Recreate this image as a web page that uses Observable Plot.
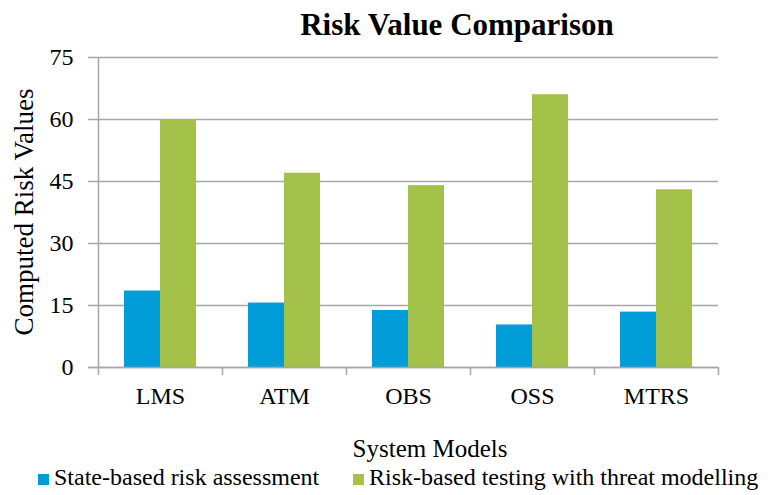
<!DOCTYPE html>
<html>
<head>
<meta charset="utf-8">
<script src="https://cdn.jsdelivr.net/npm/d3@7"></script>
<script src="https://cdn.jsdelivr.net/npm/@observablehq/plot@0.6"></script>
<style>
  html, body { margin: 0; padding: 0; background: #fff; }
  #chart { width: 772px; height: 495px; }
</style>
</head>
<body>
<div id="chart"></div>
<script>
const categories = ["LMS", "ATM", "OBS", "OSS", "MTRS"];
const seriesNames = ["State-based risk assessment", "Risk-based testing with threat modelling"];
const stateBased = [18.5, 15.6, 13.8, 10.3, 13.4];
const threatModelling = [60, 47, 44, 66, 43];
const yTicks = [0, 15, 30, 45, 60, 75];
const colors = ["#009dd9", "#a4c14a"];
const title = "Risk Value Comparison";
const xTitle = "System Models";
const yTitle = "Computed Risk Values";

const blueData = categories.map((c, i) => ({category: c, value: stateBased[i]}));
const greenData = categories.map((c, i) => ({category: c, value: threatModelling[i]}));

const font = "'Liberation Serif', serif";
const grid = "#a6a6a6";

const svg = Plot.plot({
  width: 772,
  height: 495,
  marginLeft: 97,
  marginRight: 54,
  marginTop: 57,
  marginBottom: 128,
  style: {fontFamily: font, fontSize: "24px", color: "#000", background: "#fff", overflow: "visible"},
  x: {domain: categories, padding: 0, label: null},
  y: {domain: [0, 75], ticks: yTicks, label: null},
  marks: [
    Plot.gridY(yTicks, {stroke: grid, strokeOpacity: 1, strokeWidth: 1.5}),
    Plot.axisY(yTicks, {tickSize: 9, tickPadding: 15, stroke: grid, strokeWidth: 1.5, fill: "#000", label: null}),
    Plot.axisX({tickSize: 0, tickPadding: 19, fill: "#000", label: null}),
    Plot.barY(blueData, {x: "category", y: "value", fill: colors[0], insetLeft: 26, insetRight: 62}),
    Plot.barY(greenData, {x: "category", y: "value", fill: colors[1], insetLeft: 62, insetRight: 26}),
    Plot.ruleY([0], {stroke: grid, strokeWidth: 1.5, insetLeft: -9}),
    Plot.ruleX([categories[0]], {dx: -62, y1: 75, y2: 0, stroke: grid, strokeWidth: 1.5, insetBottom: -8}),
    Plot.ruleX(categories.slice(1), {dx: -62, y1: 0, y2: 0, stroke: grid, strokeWidth: 1.5, insetBottom: -8}),
    Plot.ruleX([categories[categories.length - 1]], {dx: 62, y1: 0, y2: 0, stroke: grid, strokeWidth: 1.5, insetBottom: -8})
  ]
});

const s = d3.select(svg);
function addText(x, y, str, size, anchor, weight, transform) {
  const t = s.append("text")
    .attr("text-anchor", anchor)
    .style("text-anchor", anchor)
    .style("font-family", font)
    .style("font-size", size + "px")
    .style("font-weight", weight)
    .attr("fill", "#000")
    .text(str);
  if (transform) t.attr("transform", transform);
  else t.attr("x", x).attr("y", y);
  return t;
}

addText(457, 35, title, 31, "middle", "bold");
addText(0, 0, yTitle, 27, "middle", "normal", "translate(33,212) rotate(-90)");
addText(430, 457, xTitle, 25, "middle", "normal");

const legendItems = [
  {x: 38, name: seriesNames[0], color: colors[0]},
  {x: 353, name: seriesNames[1], color: colors[1]}
];
legendItems.forEach(d => {
  s.append("rect").attr("x", d.x).attr("y", 474).attr("width", 11).attr("height", 11).attr("fill", d.color);
  addText(d.x + 16, 485, d.name, 24, "start", "normal");
});

document.getElementById("chart").appendChild(svg);
</script>
</body>
</html>
